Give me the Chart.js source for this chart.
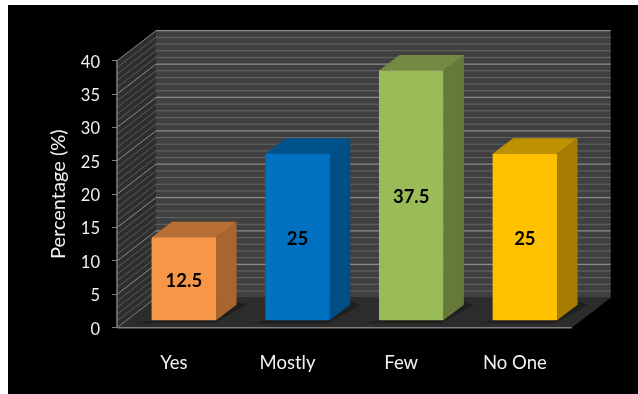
<!DOCTYPE html>
<html>
<head>
<meta charset="utf-8">
<title>Percentage chart</title>
<script src="https://cdn.jsdelivr.net/npm/chart.js@4/dist/chart.umd.min.js"></script>
<style>
html, body { margin: 0; padding: 0; background: #fff; }
#wrap { width: 638px; height: 394px; }
</style>
</head>
<body>
<div id="wrap"><canvas id="chart" width="638" height="394"></canvas></div>
<script>
// chart data
const categories = ['Yes', 'Mostly', 'Few', 'No One'];
const percentages = [12.5, 25, 37.5, 25];
const yTicks = [0, 5, 10, 15, 20, 25, 30, 35, 40];
const minorValues = [1, 2, 3, 4, 6, 7, 8, 9, 11, 12, 13, 14, 16, 17, 18, 19, 21, 22, 23, 24, 26, 27, 28, 29, 31, 32, 33, 34, 36, 37, 38, 39];

// bar colours
const frontColors = ['#f79646', '#0070c0', '#9bbb59', '#ffc000'];
const sideColors = ['#a8662f', '#004e86', '#67793a', '#a67d00'];
const topColors = ['#b96f33', '#00528c', '#728a41', '#bf9000'];

// fake 3d offsets
const WALL_DX = 39, WALL_DY = -30;
const BAR_DX = 10, BAR_DY = -7;
const DEPTH_X = 20.5, DEPTH_Y = -15.5;

function poly(ctx, pts, fill) {
    ctx.beginPath();
    pts.forEach((p, i) => i ? ctx.lineTo(p[0], p[1]) : ctx.moveTo(p[0], p[1]));
    ctx.closePath();
    ctx.fillStyle = fill;
    ctx.fill();
}

function line(ctx, x1, y1, x2, y2, color, w) {
    ctx.beginPath();
    ctx.moveTo(x1, y1);
    ctx.lineTo(x2, y2);
    ctx.strokeStyle = color;
    ctx.lineWidth = w;
    ctx.stroke();
}

// black panel, back wall, side wall and floor
const roomPlugin = {
    id: 'room',
    beforeDraw(chart) {
        const ctx = chart.ctx, a = chart.chartArea, y = chart.scales.y;
        const y0 = y.getPixelForValue(0), y40 = y.getPixelForValue(40);
        ctx.save();
        ctx.fillStyle = '#fff';
        ctx.fillRect(0, 0, chart.width, chart.height);
        ctx.fillStyle = '#000';
        ctx.fillRect(8, 5, chart.width - 8, chart.height - 5);

        poly(ctx, [[a.left + WALL_DX, y40 + WALL_DY], [a.right + WALL_DX, y40 + WALL_DY], [a.right + WALL_DX, y0 + WALL_DY], [a.left + WALL_DX, y0 + WALL_DY]], '#404040');
        poly(ctx, [[a.left, y40], [a.left + WALL_DX, y40 + WALL_DY], [a.left + WALL_DX, y0 + WALL_DY], [a.left, y0]], '#2e2e2e');
        poly(ctx, [[a.left, y0], [a.right, y0], [a.right + WALL_DX, y0 + WALL_DY], [a.left + WALL_DX, y0 + WALL_DY]], '#2c2c2c');

        minorValues.forEach(v => {
            const py = y.getPixelForValue(v);
            line(ctx, a.left + WALL_DX, py + WALL_DY, a.right + WALL_DX, py + WALL_DY, '#666666', 1);
            line(ctx, a.left, py, a.left + WALL_DX, py + WALL_DY, '#5c5c5c', 1);
        });
        yTicks.forEach(v => {
            if (v === 0) return;
            const py = y.getPixelForValue(v);
            line(ctx, a.left + WALL_DX, py + WALL_DY, a.right + WALL_DX, py + WALL_DY, '#8c8c8c', 1.2);
            line(ctx, a.left, py, a.left + WALL_DX, py + WALL_DY, '#8c8c8c', 1);
        });
        line(ctx, a.left, y0, a.right, y0, '#7f7f7f', 1.5);
        line(ctx, a.left, y0, a.left + WALL_DX, y0 + WALL_DY, '#7f7f7f', 1);
        line(ctx, a.left, y0, a.left, y40, '#7f7f7f', 1.5);
        ctx.restore();
    }
};

// side and top faces of the bars, value labels on the front
const barPlugin = {
    id: 'bar3d',
    beforeDatasetsDraw(chart) {
        const ctx = chart.ctx;
        ctx.save();
        ctx.translate(BAR_DX, BAR_DY);
        chart.getDatasetMeta(0).data.forEach((bar, i) => {
            const x1 = bar.x - bar.width / 2, x2 = bar.x + bar.width / 2;
            const top = bar.y, base = bar.base;
            poly(ctx, [[x1 - 14, base + 3], [x2 - 2, base + 3], [x2 + DEPTH_X + 10, base + DEPTH_Y], [x2 + DEPTH_X, base + DEPTH_Y - 3]], '#1f1f1f');
            poly(ctx, [[x2, top], [x2 + DEPTH_X, top + DEPTH_Y], [x2 + DEPTH_X, base + DEPTH_Y], [x2, base]], sideColors[i]);
            poly(ctx, [[x1, top], [x1 + DEPTH_X, top + DEPTH_Y], [x2 + DEPTH_X, top + DEPTH_Y], [x2, top]], topColors[i]);
        });
    },
    afterDatasetsDraw(chart) {
        const ctx = chart.ctx;
        ctx.fillStyle = '#000';
        ctx.font = 'bold 18.5px Lato';
        ctx.textAlign = 'center';
        ctx.textBaseline = 'middle';
        chart.getDatasetMeta(0).data.forEach((bar, i) => {
            ctx.fillText(String(percentages[i]), bar.x, (bar.y + bar.base) / 2 + 2);
        });
        ctx.restore();
    }
};

new Chart(document.getElementById('chart').getContext('2d'), {
    type: 'bar',
    data: {
        labels: categories,
        datasets: [{
            data: percentages,
            backgroundColor: frontColors,
            barPercentage: 0.567,
            categoryPercentage: 1,
            clip: false
        }]
    },
    options: {
        responsive: false,
        animation: false,
        layout: { padding: { top: 60.7, right: 66.3, left: 0, bottom: 0 } },
        plugins: { legend: { display: false }, tooltip: { enabled: false } },
        scales: {
            x: {
                afterFit(scale) { scale.height = 66.3; },
                grid: { display: false },
                border: { display: false },
                ticks: { color: '#f2f2f2', font: { family: 'Lato', size: 18.5 }, padding: 16, maxRotation: 0 }
            },
            y: {
                min: 0,
                max: 40,
                afterFit(scale) { scale.width = 117; },
                grid: { drawOnChartArea: false, tickLength: 5, tickColor: '#7f7f7f' },
                border: { display: false },
                ticks: { stepSize: 5, color: '#f2f2f2', font: { family: 'Lato', size: 16.5 }, padding: 12, labelOffset: 1.5 },
                title: { display: true, text: 'Percentage (%)', color: '#f2f2f2', font: { family: 'Lato', size: 20 }, padding: { top: 47, bottom: 0 } }
            }
        }
    },
    plugins: [roomPlugin, barPlugin]
});
</script>
</body>
</html>
